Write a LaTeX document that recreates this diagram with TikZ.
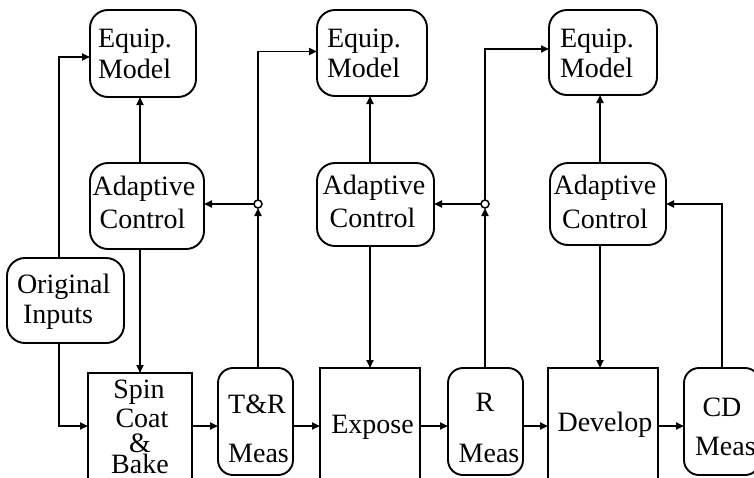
\documentclass[tikz,border=0pt]{standalone}
\usepackage{fontspec}
\setmainfont{Liberation Serif}
\usetikzlibrary{arrows.meta}

\begin{document}
\begin{tikzpicture}[x=1pt,y=-1pt,
  every node/.style={inner sep=0pt, outer sep=0pt},
  arr/.style={line width=1.9pt, -{Triangle[length=8pt,width=7pt]}},
  rbox/.style={draw, line width=1.9pt, rounded corners=18pt},
  mbox/.style={draw, line width=1.9pt, rounded corners=15pt},
  sbox/.style={draw, line width=1.9pt},
  lbl/.style={font=\fontsize{28}{33}\selectfont, anchor=base},
  lbll/.style={font=\fontsize{28}{33}\selectfont, anchor=base west},
  junc/.style={draw, circle, fill=white, line width=1.5pt, minimum size=8pt}
]
\useasboundingbox (0,0) rectangle (754,477);
\clip (0,0) rectangle (754,477);

% equipment models
\node[rbox, minimum width=106pt, minimum height=87pt] (em1) at (143,53.5) {};
\node[rbox, minimum width=110pt, minimum height=86pt] (em2) at (372,53) {};
\node[rbox, minimum width=108pt, minimum height=85pt] (em3) at (603,52.5) {};

% adaptive controllers
\node[rbox, minimum width=114pt, minimum height=86pt] (ac1) at (147,206) {};
\node[rbox, minimum width=117pt, minimum height=83pt] (ac2) at (375.5,204.5) {};
\node[rbox, minimum width=116pt, minimum height=82pt] (ac3) at (608,204) {};

% original inputs
\node[rbox, minimum width=117pt, minimum height=85pt] (oi) at (65.5,300.5) {};

% process steps and measurements
\node[sbox, minimum width=104pt, minimum height=127pt] (spin) at (140,436.5) {};
\node[mbox, minimum width=75pt, minimum height=107pt] (tr) at (255.5,421.5) {};
\node[sbox, minimum width=100pt, minimum height=132pt] (expose) at (370,434) {};
\node[mbox, minimum width=75pt, minimum height=107pt] (rm) at (485.5,421.5) {};
\node[sbox, minimum width=110pt, minimum height=132pt] (dev) at (603,434) {};
\node[mbox, minimum width=76pt, minimum height=107pt] (cd) at (722,421.5) {};

% junction points of the measurement feedback
\node[junc] (j1) at (258,204) {};
\node[junc] (j2) at (485,204) {};

% labels
\node[lbll] (em1a) at (98,47) {Equip.};
\node[lbll] (em1b) at (98,78) {Model};
\node[lbll] (em2a) at (327,47) {Equip.};
\node[lbll] (em2b) at (327,77) {Model};
\node[lbll] (em3a) at (560,47) {Equip.};
\node[lbll] (em3b) at (560,77) {Model};

\node[lbl] (ac1a) at (144,195) {Adaptive};
\node[lbl] (ac1b) at (142.5,228) {Control};
\node[lbl] (ac2a) at (374,194) {Adaptive};
\node[lbl] (ac2b) at (372.5,227) {Control};
\node[lbl] (ac3a) at (605,194) {Adaptive};
\node[lbl] (ac3b) at (605,228) {Control};

\node[lbll] (oia) at (17,293) {Original};
\node[lbll] (oib) at (23,323) {Inputs};

\node[lbl] (spina) at (139,398) {Spin};
\node[lbl] (spinb) at (142,427) {Coat};
\node[lbl] (spinc) at (140,452) {\&};
\node[lbl] (spind) at (140,473) {Bake};

\node[lbl] (tra) at (257,413) {T\&R};
\node[lbl] (trb) at (258.5,462) {Meas};
\node[lbl] (exa) at (372.5,433) {Expose};
\node[lbl] (rma) at (485,411) {R};
\node[lbl] (rmb) at (489,462) {Meas};
\node[lbl] (deva) at (605,431) {Develop};
\node[lbl] (cda) at (722,416) {CD};
\node[lbll] (cdb) at (695,455) {Meas};

% columns and rows used by the connectors
\coordinate (xo) at (59,0);
\coordinate (xa) at (140,0);
\coordinate (xb) at (370,0);
\coordinate (xc) at (600,0);
\coordinate (xcd) at (722,0);
\coordinate (yrow) at (0,426);

% connectors
\draw[arr] (oi.north -| xo) |- ([yshift=-3.5pt]em1.west);
\draw[arr] (oi.south -| xo) |- (spin.west |- yrow);
\draw[arr] (ac1.north -| xa) -- (em1.south -| xa);
\draw[arr] (ac1.south -| xa) -- (spin.north -| xa);
\draw[arr] (spin.east |- yrow) -- (tr.west |- yrow);
\draw[arr] (tr.north -| j1) -- (j1.south);
\draw[arr] (j1.west) -- (ac1.east |- j1);
\draw[arr] (j1.north) |- ([yshift=1.5pt]em2.west);
\draw[arr] (ac2.north -| xb) -- (em2.south -| xb);
\draw[arr] (ac2.south -| xb) -- (expose.north -| xb);
\draw[arr] (tr.east |- yrow) -- (expose.west |- yrow);
\draw[arr] (expose.east |- yrow) -- (rm.west |- yrow);
\draw[arr] (rm.north -| j2) -- (j2.south);
\draw[arr] (j2.west) -- (ac2.east |- j2);
\draw[arr] (j2.north) |- ([yshift=3.5pt]em3.west);
\draw[arr] (ac3.north -| xc) -- (em3.south -| xc);
\draw[arr] (ac3.south -| xc) -- (dev.north -| xc);
\draw[arr] (rm.east |- yrow) -- (dev.west |- yrow);
\draw[arr] (dev.east |- yrow) -- (cd.west |- yrow);
\draw[arr] (cd.north -| xcd) |- (ac3.east |- j2);
\end{tikzpicture}
\end{document}
